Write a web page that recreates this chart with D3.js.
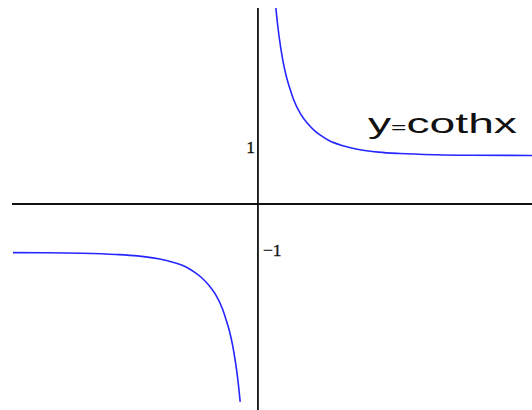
<!DOCTYPE html>
<html>
<head>
<meta charset="utf-8">
<script src="https://cdn.jsdelivr.net/npm/d3@7"></script>
<style>
  body { margin: 0; background: #fff; }
  svg { display: block; }
</style>
</head>
<body>
<div id="chart"></div>
<script>
// points (right branch, x > 0)
const rightX = [0.25, 0.28, 0.32, 0.36, 0.4, 0.45, 0.5, 0.6, 0.7, 0.8, 0.9, 1.0, 1.2, 1.4, 1.7, 2.0, 2.5, 3.0, 3.86];
const rightY = [4.08, 3.66, 3.23, 2.89, 2.63, 2.38, 2.16, 1.86, 1.66, 1.51, 1.40, 1.31, 1.20, 1.13, 1.07, 1.04, 1.015, 1.005, 1.001];

// left branch, x < 0
const leftX = [-3.45, -3.0, -2.5, -2.0, -1.7, -1.4, -1.2, -1.0, -0.9, -0.8, -0.7, -0.6, -0.5, -0.45, -0.4, -0.36, -0.32, -0.28, -0.25];
const leftY = [-1.002, -1.005, -1.015, -1.04, -1.07, -1.13, -1.20, -1.31, -1.40, -1.51, -1.66, -1.86, -2.16, -2.38, -2.63, -2.89, -3.23, -3.66, -4.08];

const tickLabels = [{v: 1, text: "1"}, {v: -1, text: "\u22121"}];
const title = "y=cothx";

const width = 532, height = 410;

let svg = d3.select("#chart").append("svg")
    .attr("width", width)
    .attr("height", height);

let x = d3.scaleLinear()
    .domain([-3.45, 3.86])
    .range([13, 532]);

let y = d3.scaleLinear()
    .domain([-4.25, 4.04])
    .range([410.1, 8.1]);

svg.append("defs").append("clipPath")
    .attr("id", "clip")
    .append("rect")
    .attr("x", 0)
    .attr("y", y(4.04))
    .attr("width", width)
    .attr("height", height - y(4.04));

// axes (plain lines, no ticks)
svg.append("line")
    .attr("x1", x(-3.45) - 1).attr("x2", x(3.86))
    .attr("y1", y(0)).attr("y2", y(0))
    .attr("stroke", "#111").attr("stroke-width", 1.8);

svg.append("line")
    .attr("x1", x(0)).attr("x2", x(0))
    .attr("y1", y(4.04)).attr("y2", y(-4.25))
    .attr("stroke", "#111").attr("stroke-width", 1.8);

let line = d3.line()
    .curve(d3.curveMonotoneX)
    .x(d => x(d[0]))
    .y(d => y(d[1]));

let branches = [d3.zip(leftX, leftY), d3.zip(rightX, rightY)];

svg.append("g")
    .attr("clip-path", "url(#clip)")
    .selectAll("path")
    .data(branches)
    .enter().append("path")
    .attr("d", d => line(d))
    .attr("fill", "none")
    .attr("stroke", "#2626ff")
    .attr("stroke-width", 1.6);

// value labels beside the vertical axis
svg.append("text")
    .attr("x", x(0) - 3)
    .attr("y", y(tickLabels[0].v) - 2.5)
    .attr("text-anchor", "end")
    .attr("font-family", "Liberation Serif, Times New Roman, serif")
    .attr("font-size", 17.5)
    .attr("stroke", "#111").attr("stroke-width", 0.3)
    .attr("fill", "#111")
    .text(tickLabels[0].text);

svg.append("text")
    .attr("x", x(0) + 5)
    .attr("y", y(tickLabels[1].v) + 3.5)
    .attr("text-anchor", "start")
    .attr("font-family", "Liberation Serif, Times New Roman, serif")
    .attr("font-size", 17.5)
    .attr("stroke", "#111").attr("stroke-width", 0.3)
    .attr("fill", "#111")
    .text(tickLabels[1].text);

// curve name
let t = svg.append("text")
    .attr("x", 368)
    .attr("y", 133)
    .attr("font-family", "Liberation Sans, Arial, sans-serif")
    .attr("font-size", 28)
    .attr("fill", "#111")
    .attr("textLength", 149)
    .attr("lengthAdjust", "spacingAndGlyphs");
t.append("tspan").text(title.slice(0, 1));
t.append("tspan").attr("font-size", 16).text(title.slice(1, 2));
t.append("tspan").text(title.slice(2));
</script>
</body>
</html>
